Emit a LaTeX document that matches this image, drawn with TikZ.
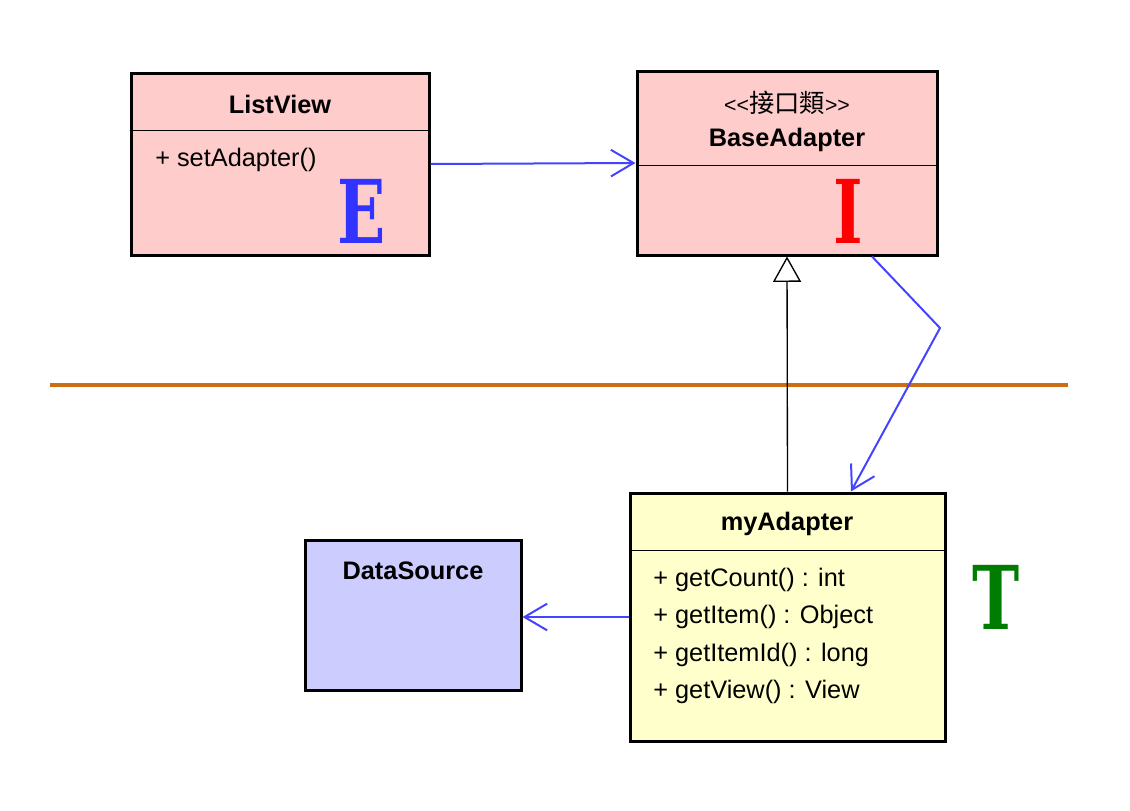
\documentclass[tikz,border=0pt]{standalone}
\usepackage{fontspec}
\setmainfont{Liberation Sans}
\newfontfamily\cjkfont{Noto Sans CJK TC}
\newfontfamily\letterfont{DejaVu Serif}
\usetikzlibrary{arrows.meta}

\definecolor{pinkfill}{RGB}{255,204,204}
\definecolor{yellowfill}{RGB}{255,255,204}
\definecolor{bluefill}{RGB}{204,204,255}
\definecolor{linkblue}{RGB}{68,68,255}
\definecolor{sepline}{RGB}{204,110,20}
\definecolor{letterblue}{RGB}{51,51,255}
\definecolor{lettergreen}{RGB}{0,125,0}

\tikzset{
  classbox/.style={draw=black, line width=2.25pt, rectangle, inner sep=0pt},
  title/.style={font=\fontsize{19}{23}\selectfont\bfseries},
  member/.style={anchor=west, font=\fontsize{19}{23}\selectfont, inner sep=0pt},
  letter/.style={font=\fontsize{66}{66}\selectfont\letterfont\bfseries, xscale=0.72, transform shape},
  link/.style={linkblue, line width=1.5pt, -{Straight Barb[length=17pt,width=20pt]}},
  inherit/.style={black, line width=1pt, -{Triangle[open, length=19pt, width=21pt, fill=white]}}
}

\begin{document}
\begin{tikzpicture}[x=0.75pt, y=-0.75pt]
    \useasboundingbox (0,0) rectangle (1130,810);

    % Classes
    \node[classbox, fill=pinkfill, minimum width=223.5pt, minimum height=136.5pt] (listview) at (280,164) {};
    \node[classbox, fill=pinkfill, minimum width=225pt, minimum height=138pt] (baseadapter) at (787,163) {};
    \node[classbox, fill=yellowfill, minimum width=236.25pt, minimum height=186pt] (myadapter) at (787.5,617) {};
    \node[classbox, fill=bluefill, minimum width=162pt, minimum height=112.5pt] (datasource) at (413,615) {};

    % Compartments
    \draw[line width=0.75pt] (listview.west |- 0,130) -- (listview.east |- 0,130);
    \draw[line width=0.75pt] (baseadapter.west |- 0,165) -- (baseadapter.east |- 0,165);
    \draw[line width=0.75pt] (myadapter.west |- 0,550) -- (myadapter.east |- 0,550);

    % Names and members
    \node[title] (listviewname) at (280,104) {ListView};
    \node[member] (setadapter) at (155,160) {+ setAdapter()};
    \node[font=\fontsize{16}{20}\selectfont] (stereo) at (787,103) {{<}{<}{\cjkfont\fontsize{19}{20}\selectfont 接口類}{>}{>}};
    \node[title] (baseadaptername) at (787,140) {BaseAdapter};
    \node[title] (myadaptername) at (787,524) {myAdapter};
    \node[member] (getcount) at (653,580) {+ getCount() : int};
    \node[member] (getitem) at (653,617) {+ getItem() : Object};
    \node[member] (getitemid) at (653,655) {+ getItemId() : long};
    \node[member] (getview) at (653,692) {+ getView() : View};
    \node[title] (datasourcename) at (413,571) {DataSource};

    % Letters
    \node[letter, letterblue] (lettere) at (362,211) {E};
    \node[letter, red] (letteri) at (848,211) {I};
    \node[letter, lettergreen] (lettert) at (996,597) {T};

    % Layer line
    \draw[sepline, line width=2.5pt] (50,385) -- (1068,385);

    % Connectors
    \coordinate (bend) at (940,328);
    \draw[link] (listview.east) -- (baseadapter.west);
    \draw[inherit] (myadapter.north) -- (baseadapter.south);
    \draw[link] ([xshift=63.75pt]baseadapter.south) -- (bend) -- ([xshift=47.6pt]myadapter.north);
    \draw[link] (myadapter.west) -- (myadapter.west -| datasource.east);
\end{tikzpicture}
\end{document}
